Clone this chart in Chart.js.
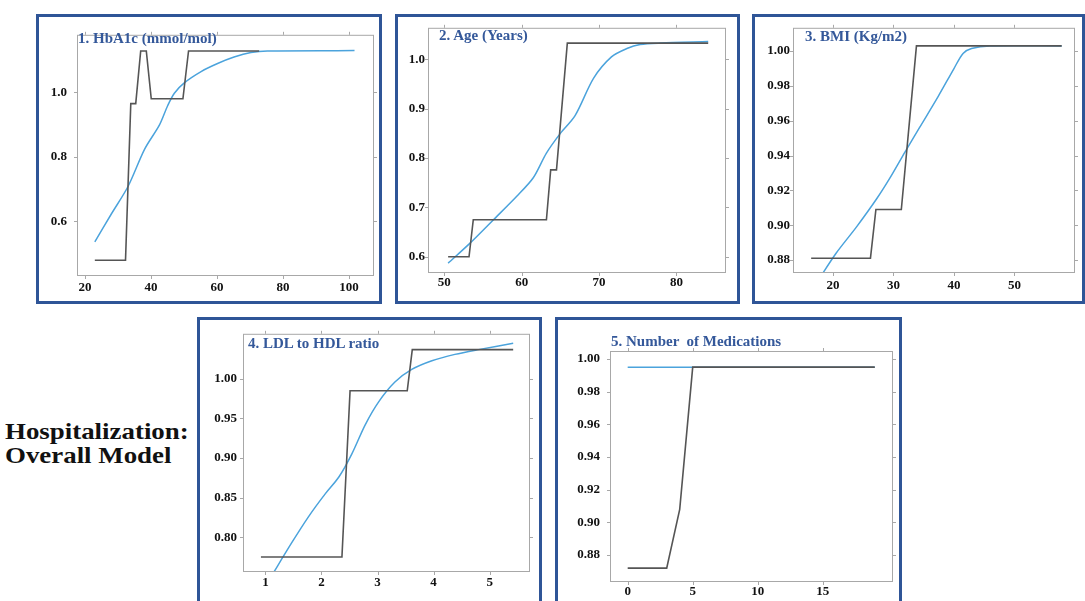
<!DOCTYPE html>
<html>
<head>
<meta charset="utf-8">
<script src="https://cdn.jsdelivr.net/npm/chart.js@4.4.0/dist/chart.umd.min.js"></script>
<style>
  body { margin: 0; background: #fff; width: 1085px; height: 601px; overflow: hidden; position: relative;
         font-family: 'Liberation Serif', 'Times New Roman', serif; }
  .panel { position: absolute; border: 3px solid #2f5597; box-sizing: border-box; background: #fff; }
  .panel canvas { position: absolute; left: 0; top: 0; }
  .ptitle { position: absolute; color: #34589a; font-weight: bold; font-size: 15px; white-space: pre; line-height: 15px; }
  #side { position: absolute; left: 5px; top: 419px; font-weight: bold; font-size: 24px; line-height: 24px;
          transform: scaleX(1.12); transform-origin: left top; color: #111; }
</style>
</head>
<body>
<div id="side">Hospitalization:<br>Overall Model</div>

<script>
// 1. HbA1c (mmol/mol)
const hba1cStepX = [23.0, 32.3, 33.9, 35.4, 36.9, 38.6, 40.1, 49.7, 51.4, 72.8];
const hba1cStepY = [0.48, 0.48, 0.965, 0.965, 1.128, 1.128, 0.98, 0.98, 1.128, 1.128];
const hba1cFitX = [23.0, 28.0, 33.1, 38.1, 42.6, 45.1, 47.1, 50.1, 55.2, 60.2, 65.2, 70.3, 75.3, 101.7];
const hba1cFitY = [0.537, 0.623, 0.709, 0.824, 0.899, 0.959, 0.997, 1.029, 1.064, 1.089, 1.109, 1.123, 1.128, 1.129];
const hba1cXTicks = [20, 40, 60, 80, 100];
const hba1cYTicks = [0.6, 0.8, 1.0];

// 2. Age (Years)
const ageStepX = [50.5, 53.2, 53.75, 63.2, 63.75, 64.5, 65.9, 84.1];
const ageStepY = [0.6, 0.6, 0.675, 0.675, 0.776, 0.776, 1.033, 1.033];
const ageFitX = [50.5, 53.3, 56.3, 59.4, 61.5, 63.2, 65.0, 66.9, 69.3, 71.6, 73.6, 75.3, 77.9, 84.1];
const ageFitY = [0.587, 0.627, 0.674, 0.723, 0.76, 0.81, 0.85, 0.886, 0.962, 1.005, 1.022, 1.03, 1.033, 1.036];
const ageXTicks = [50, 60, 70, 80];
const ageYTicks = [0.6, 0.7, 0.8, 0.9, 1.0];

// 3. BMI (Kg/m2)
const bmiStepX = [16.4, 26.2, 27.1, 31.3, 33.8, 57.8];
const bmiStepY = [0.881, 0.881, 0.909, 0.909, 1.003, 1.003];
const bmiFitX = [17.5, 20.55, 23.9, 27.2, 29.4, 31.9, 34.3, 37.4, 40.0, 41.5, 42.9, 45.9, 57.8];
const bmiFitY = [0.868, 0.884, 0.899, 0.915, 0.927, 0.942, 0.956, 0.974, 0.990, 0.9987, 1.0015, 1.003, 1.003];
const bmiXTicks = [20, 30, 40, 50];
const bmiYTicks = [0.88, 0.90, 0.92, 0.94, 0.96, 0.98, 1.00];

// 4. LDL to HDL ratio
const ldlStepX = [0.92, 2.365, 2.51, 3.53, 3.62, 5.42];
const ldlStepY = [0.775, 0.775, 0.985, 0.985, 1.037, 1.037];
const ldlFitX = [1.1, 1.47, 1.77, 2.07, 2.31, 2.54, 2.78, 3.02, 3.31, 3.61, 3.97, 4.38, 4.80, 5.42];
const ldlFitY = [0.75, 0.793, 0.826, 0.855, 0.876, 0.905, 0.942, 0.971, 0.996, 1.012, 1.023, 1.031, 1.037, 1.045];
const ldlXTicks = [1, 2, 3, 4, 5];
const ldlYTicks = [0.80, 0.85, 0.90, 0.95, 1.00];

// 5. Number of Medications
const medsStepX = [0, 3, 4, 5, 19];
const medsStepY = [0.872, 0.872, 0.908, 0.995, 0.995];
const medsFitX = [0, 19];
const medsFitY = [0.995, 0.995];
const medsXTicks = [0, 5, 10, 15];
const medsYTicks = [0.88, 0.90, 0.92, 0.94, 0.96, 0.98, 1.00];

const panels = [
  { title: '1. HbA1c (mmol/mol)', box: [36, 14, 346, 290], plot: [38, 10, 335, 259], titleAt: [78, 31],
    sx: hba1cStepX, sy: hba1cStepY, fx: hba1cFitX, fy: hba1cFitY, xt: hba1cXTicks, yt: hba1cYTicks,
    xr: [17.6, 107.6], yr: [0.431, 1.178], yDec: 1, yPad: 10, xPad: 4 },
  { title: '2. Age (Years)', box: [395, 14, 345, 290], plot: [30, 7, 328, 256], titleAt: [439, 28],
    sx: ageStepX, sy: ageStepY, fx: ageFitX, fy: ageFitY, xt: ageXTicks, yt: ageYTicks,
    xr: [47.9, 86.4], yr: [0.567, 1.064], yDec: 1, yPad: 3, xPad: 2 },
  { title: '3. BMI (Kg/m2)', box: [752, 14, 333, 290], plot: [38, 7, 320, 256], titleAt: [805, 29],
    sx: bmiStepX, sy: bmiStepY, fx: bmiFitX, fy: bmiFitY, xt: bmiXTicks, yt: bmiYTicks,
    xr: [13.4, 60.0], yr: [0.8725, 1.0134], yDec: 2, yPad: 3, xPad: 5 },
  { title: '4. LDL to HDL ratio', box: [197, 317, 345, 290], plot: [43, 9, 330, 252], titleAt: [248, 336],
    sx: ldlStepX, sy: ldlStepY, fx: ldlFitX, fy: ldlFitY, xt: ldlXTicks, yt: ldlYTicks,
    xr: [0.6, 5.72], yr: [0.756, 1.057], yDec: 2, yPad: 6, xPad: 3 },
  { title: '5. Number  of Medications', box: [555, 317, 347, 290], plot: [52, 31, 335, 262], titleAt: [611, 334],
    sx: medsStepX, sy: medsStepY, fx: medsFitX, fy: medsFitY, xt: medsXTicks, yt: medsYTicks,
    xr: [-1.36, 20.4], yr: [0.8635, 1.0049], yDec: 2, yPad: 10, xPad: 2 }
];

// gray frame round the plot area with small outward ticks on all four sides
const framePlugin = {
  id: 'frame',
  afterDatasetsDraw(chart) {
    const { ctx, chartArea: a, scales: { x, y } } = chart;
    ctx.save();
    ctx.strokeStyle = '#a8a8a8';
    ctx.lineWidth = 1;
    ctx.strokeRect(a.left + 0.5, a.top + 0.5, a.right - a.left - 1, a.bottom - a.top - 1);
    ctx.beginPath();
    x.ticks.forEach(t => {
      const px = Math.round(x.getPixelForValue(t.value)) + 0.5;
      ctx.moveTo(px, a.top); ctx.lineTo(px, a.top - 3);
      ctx.moveTo(px, a.bottom); ctx.lineTo(px, a.bottom + 3);
    });
    y.ticks.forEach(t => {
      const py = Math.round(y.getPixelForValue(t.value)) + 0.5;
      ctx.moveTo(a.left, py); ctx.lineTo(a.left - 3, py);
      ctx.moveTo(a.right, py); ctx.lineTo(a.right + 3, py);
    });
    ctx.stroke();
    ctx.restore();
  }
};

const tickFont = { family: "'Liberation Serif', 'Times New Roman', serif", weight: 'bold', size: 13 };
const pts = (xs, ys) => xs.map((v, i) => ({ x: v, y: ys[i] }));

panels.forEach(p => {
  const [bx, by, bw, bh] = p.box;
  const div = document.createElement('div');
  div.className = 'panel';
  Object.assign(div.style, { left: bx + 'px', top: by + 'px', width: bw + 'px', height: bh + 'px' });
  const w = bw - 6, h = bh - 6;
  const canvas = document.createElement('canvas');
  canvas.width = w; canvas.height = h;
  div.appendChild(canvas);
  document.body.appendChild(div);

  const t = document.createElement('div');
  t.className = 'ptitle';
  t.textContent = p.title;
  t.style.left = p.titleAt[0] + 'px';
  t.style.top = p.titleAt[1] + 'px';
  document.body.appendChild(t);

  const [pl, pt, pr, pb] = p.plot;
  new Chart(canvas, {
    type: 'line',
    data: {
      datasets: [
        { data: pts(p.sx, p.sy), borderColor: '#555555', borderWidth: 1.6, pointRadius: 0, tension: 0 },
        { data: pts(p.fx, p.fy), borderColor: '#4ba3dc', borderWidth: 1.5, pointRadius: 0, tension: 0.3 }
      ]
    },
    options: {
      responsive: false,
      animation: false,
      layout: { padding: { top: pt, right: w - pr, left: 0, bottom: 0 } },
      plugins: { legend: { display: false }, tooltip: { enabled: false } },
      scales: {
        x: {
          type: 'linear', min: p.xr[0], max: p.xr[1],
          afterBuildTicks: s => { s.ticks = p.xt.map(v => ({ value: v })); },
          afterFit: s => { s.height = h - pb; },
          grid: { display: false, drawTicks: false },
          border: { display: false },
          ticks: { font: tickFont, color: '#111', padding: p.xPad, maxRotation: 0, callback: v => String(v) }
        },
        y: {
          type: 'linear', min: p.yr[0], max: p.yr[1],
          afterBuildTicks: s => { s.ticks = p.yt.map(v => ({ value: v })); },
          afterFit: s => { s.width = pl; },
          grid: { display: false, drawTicks: false },
          border: { display: false },
          ticks: { font: tickFont, color: '#111', padding: p.yPad, callback: v => Number(v).toFixed(p.yDec) }
        }
      }
    },
    plugins: [framePlugin]
  });
});
</script>
</body>
</html>
